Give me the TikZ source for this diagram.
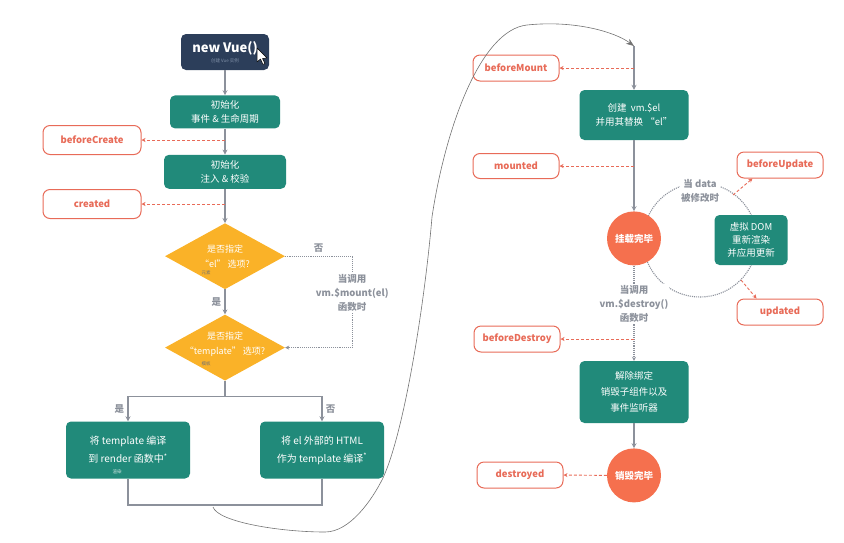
\documentclass[tikz,border=0pt]{standalone}
\usepackage{fontspec}
\setmainfont{Noto Sans CJK SC}
\usepackage{xcolor}
\usetikzlibrary{shapes.geometric, arrows, arrows.meta, positioning, calc}

\definecolor{vteal}{RGB}{33,138,122}
\definecolor{vnavy}{RGB}{44,62,90}
\definecolor{vslate}{RGB}{128,144,168}
\definecolor{vorange}{RGB}{250,178,40}
\definecolor{vcoral}{RGB}{245,112,78}
\definecolor{vred}{RGB}{232,107,88}
\definecolor{vgray}{RGB}{140,145,155}

\begin{document}
\begin{tikzpicture}[
    x=1pt, y=-1pt,
    module/.style={rectangle, rounded corners=5pt, fill=vteal, text=white, align=center, font=\fontsize{9.5}{14}\selectfont, inner sep=2pt},
    entry/.style={rectangle, rounded corners=5pt, fill=vnavy, text=white, align=center, minimum width=88pt, minimum height=36pt, inner sep=1pt},
    decision/.style={diamond, fill=vorange, minimum width=120pt, minimum height=66pt, inner sep=0pt},
    dtext/.style={text=white, align=center, font=\fontsize{9}{15}\selectfont},
    hook/.style={rectangle, rounded corners=7pt, draw=vred, line width=1pt, fill=white, text=vred, font=\fontsize{9.5}{11}\selectfont\bfseries, minimum width=86pt, minimum height=26pt},
    done/.style={circle, fill=vcoral, text=white, font=\fontsize{9.5}{11}\selectfont\bfseries, minimum size=54pt, inner sep=0pt},
    arrow/.style={->, >={Stealth[length=5pt, width=5pt]}, line width=1.3pt, draw=vgray},
    wire/.style={line width=1.3pt, draw=vgray},
    darrow/.style={->, >={Stealth[length=4pt, width=4pt]}, densely dashed, line width=0.9pt, draw=vred},
    dotarrow/.style={->, >={Stealth[length=4pt, width=4pt]}, densely dotted, line width=1.1pt, draw=vgray},
    lbl/.style={text=vgray, align=center, font=\fontsize{9.5}{14}\selectfont\bfseries, fill=white, inner sep=1pt},
    note/.style={font=\fontsize{4.5}{5}\selectfont, inner sep=0pt},
    sketch/.style={->, >={Stealth[length=8pt, width=6pt]}, line width=0.6pt, draw=black!55}
]
\useasboundingbox (0,0) rectangle (844,542);

% Update loop (behind the nodes)
\coordinate (updc) at (700,240);
\draw[densely dotted, line width=1.1pt, draw=vgray] (updc) circle[radius=57];

% Left column: creation and compilation
\node[entry] (newvue) at (225,52) {{\fontsize{13}{15}\selectfont\bfseries new Vue()}\\[-2pt]{\fontsize{4.5}{6}\selectfont\color{vslate}创建 Vue 实例}};
\node[module, minimum width=110pt, minimum height=33pt, below=25pt of newvue] (initevt) {初始化\\事件 \& 生命周期};
\node[module, minimum width=122pt, minimum height=34pt, below=26pt of initevt] (initinj) {初始化\\注入 \& 校验};
\node[decision, below=34pt of initinj] (elq) {};
\node[dtext] at (elq) {是否指定\\“el” 选项?};
\node[note, text=black!55] at ($(elq)+(-19,17)$) {元素};
\node[decision, below=25pt of elq] (tmplq) {};
\node[dtext] at ($(tmplq)+(0,-3)$) {是否指定\\“template” 选项?};
\node[note, text=black!55] at ($(tmplq)+(-19,16)$) {模板};
\coordinate (split) at ($(tmplq.south)+(0,16)$);
\node[module, minimum width=124pt, minimum height=57pt, font=\fontsize{10}{18}\selectfont] (compile) at (128,450) {将 template 编译\\到 render 函数中\textsuperscript{*}};
\node[note, text=white!85!vteal] at ($(compile)+(-11,22)$) {渲染};
\node[module, minimum width=124pt, minimum height=57pt, font=\fontsize{10}{18}\selectfont] (outer) at (322,450) {将 el 外部的 HTML\\作为 template 编译\textsuperscript{*}};
\coordinate (join) at (225,505);

% Hooks of the left column
\node[hook, minimum width=98pt, minimum height=29pt] (beforeCreate) at (92,140) {beforeCreate};
\node[hook, minimum width=98pt, minimum height=29pt] (created) at (92,204) {created};

% Mouse pointer beside new Vue()
\draw[fill=white, draw=black, line width=0.5pt, line join=round] (257,48) -- (257,62) -- (260.5,59) -- (263,64.5) -- (265,63.5) -- (262.5,58.5) -- (267,58) -- cycle;

% Right column: mounting, updating, destruction
\coordinate (mountin) at (634,46);
\node[module, minimum width=109pt, minimum height=50pt] (mountel) at (634,115) {创建 ~vm.\$el\\并用其替换 “el”};
\node[done, below=71pt of mountel] (mounteddone) {挂载完毕};
\node[module, minimum width=73pt, minimum height=50pt, font=\fontsize{9.5}{13}\selectfont] (rerender) at (751,240) {虚拟 DOM\\重新渲染\\并应用更新};
\node[module, minimum width=109pt, minimum height=62pt, font=\fontsize{9.5}{16}\selectfont] (teardown) at (634,392) {解除绑定\\销毁子组件以及\\事件监听器};
\node[done, below=25pt of teardown] (destroydone) {销毁完毕};
\node[lbl] at (700,191) {当 data\\被修改时};

% Hooks of the right column
\node[hook] (beforeMount) at (516,68) {beforeMount};
\node[hook, minimum height=25pt] (mounted) at (516,166) {mounted};
\node[hook] (beforeUpdate) at (780,165) {beforeUpdate};
\node[hook] (updated) at (780,312) {updated};
\node[hook] (beforeDestroy) at (517,339) {beforeDestroy};
\node[hook] (destroyed) at (520,475) {destroyed};

% Main flow arrows
\draw[arrow] (newvue) -- (initevt);
\draw[arrow] (initevt) -- (initinj);
\draw[arrow] (initinj) -- (elq);
\draw[arrow] (elq) -- node[left, text=vgray, font=\fontsize{9.5}{11}\selectfont\bfseries] {是} (tmplq);
\draw[wire] (tmplq.south) -- (split);
\draw[arrow] (split) -| node[pos=0.75, left, text=vgray, font=\fontsize{9.5}{11}\selectfont\bfseries] {是} (compile.north);
\draw[arrow] (split) -| node[pos=0.75, right, text=vgray, font=\fontsize{9.5}{11}\selectfont\bfseries] {否} (outer.north);
\draw[wire] (compile.south) |- (join) -| (outer.south);
\draw[dotarrow] (elq.east) -- node[above, text=vgray, font=\fontsize{9.5}{11}\selectfont\bfseries] {否} ++(67,0) |- node[pos=0.2, lbl] {当调用\\vm.\$mount(el)\\函数时} (tmplq.east);

\draw[arrow] (mountin) -- (mountel);
\draw[arrow] (mountel) -- (mounteddone);
\draw[dotarrow] (mounteddone) -- node[pos=0.4, lbl] {当调用\\vm.\$destroy()\\函数时} (teardown);
\draw[arrow] (teardown) -- (destroydone);

% Hook arrows
\draw[darrow] (initevt.south |- beforeCreate.east) -- (beforeCreate.east);
\draw[darrow] (initinj.south |- created.east) -- (created.east);
\draw[darrow] (mountin |- beforeMount.east) -- (beforeMount.east);
\draw[darrow] (mountel.south |- mounted.east) -- (mounted.east);
\draw[darrow] ($(updc)+(33,-45)$) -- ([xshift=16pt]beforeUpdate.south west);
\draw[darrow] ($(updc)+(41,40)$) -- ([xshift=20pt]updated.north west);
\draw[darrow] (mounteddone.south |- beforeDestroy.east) -- (beforeDestroy.east);
\draw[darrow] (destroydone.west) -- (destroyed.east);

% Hand-drawn link from compilation to mounting
\draw[sketch] ($(join)+(-12,2)$) .. controls (218,522) and (280,532) .. (325,532)
  .. controls (350,532) and (372,500) .. (383,478)
  .. controls (405,430) and (425,300) .. (432,217)
  .. controls (445,130) and (480,30) .. (527,25)
  .. controls (575,20) and (615,32) .. (mountin);

\end{tikzpicture}
\end{document}
